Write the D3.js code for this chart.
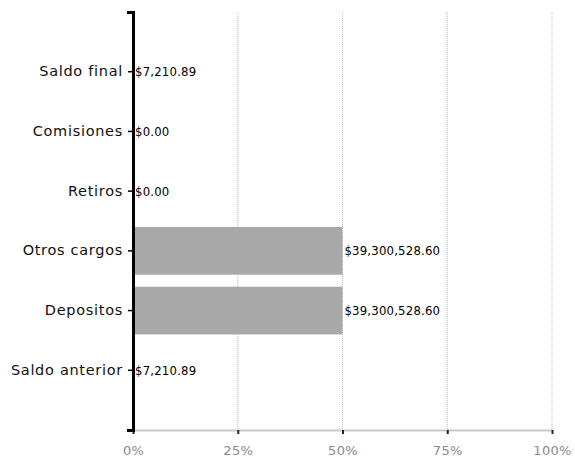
<!DOCTYPE html>
<html><head><meta charset="utf-8">
<script src="https://cdn.jsdelivr.net/npm/d3@7/dist/d3.min.js"></script>
<style>body{margin:0;background:#fff;}svg{display:block;}</style>
</head><body>
<svg id="chart" width="575" height="461"></svg>
<script>
const categories = ["Saldo final","Comisiones","Retiros","Otros cargos","Depositos","Saldo anterior"];
const values = [7210.89, 0, 0, 39300528.60, 39300528.60, 7210.89];
const valueLabels = ["$7,210.89","$0.00","$0.00","$39,300,528.60","$39,300,528.60","$7,210.89"];
const xTicks = [0, 0.25, 0.5, 0.75, 1];
const xTickLabels = ["0%","25%","50%","75%","100%"];

const total = d3.sum(values);
const svg = d3.select("#chart");
const x = d3.scaleLinear().domain([0,1]).range([133,552]);
const y = d3.scaleBand().domain(categories).range([12,430]).paddingInner(0.2).paddingOuter(0.6).align(0.5);

// gridlines
svg.append("g").selectAll("line").data(xTicks.slice(1)).join("line")
  .attr("x1", d=>x(d)).attr("x2", d=>x(d)).attr("y1", 12).attr("y2", 430)
  .attr("stroke", "#bbb").attr("stroke-width", 1).attr("stroke-dasharray", "1,1");

// bars
svg.append("g").selectAll("rect").data(categories).join("rect")
  .attr("x", x(0)).attr("y", d=>y(d))
  .attr("width", (d,i)=>x(values[i]/total)-x(0))
  .attr("height", y.bandwidth())
  .attr("fill", "#a9a9a9");

// x axis
const xAxis = svg.append("g").attr("transform","translate(0,430)")
  .call(d3.axisBottom(x).tickValues(xTicks).tickFormat((d,i)=>xTickLabels[i]).tickSize(4).tickSizeOuter(0).tickPadding(12));
xAxis.select(".domain").attr("stroke","#c8c8c8").attr("stroke-width",2);
xAxis.selectAll(".tick line").attr("stroke","#222").attr("stroke-width",2);
xAxis.selectAll(".tick text").attr("fill","#8a8a8a").attr("font-family","DejaVu Sans").attr("font-size","13px").attr("letter-spacing","0.3px");

// y axis
const yAxis = svg.append("g").attr("transform","translate(133,0)")
  .call(d3.axisLeft(y).tickSize(5).tickSizeOuter(6).tickPadding(5));
yAxis.select(".domain").attr("stroke","#000").attr("stroke-width",3);
yAxis.selectAll(".tick line").attr("stroke","#000").attr("stroke-width",1.5);
yAxis.selectAll(".tick text").attr("fill","#111").attr("font-family","DejaVu Sans").attr("font-size","14.5px").attr("letter-spacing","0.7px");

// value labels
svg.append("g").selectAll("text").data(categories).join("text")
  .attr("x", (d,i)=>x(values[i]/total)+2)
  .attr("y", d=>y(d)+y.bandwidth()/2)
  .attr("dy","0.35em")
  .attr("font-family","DejaVu Sans Condensed")
  .attr("font-size","13px")
  .attr("letter-spacing","0.2px")
  .attr("fill","#000")
  .text((d,i)=>valueLabels[i]);
</script>
</body></html>
